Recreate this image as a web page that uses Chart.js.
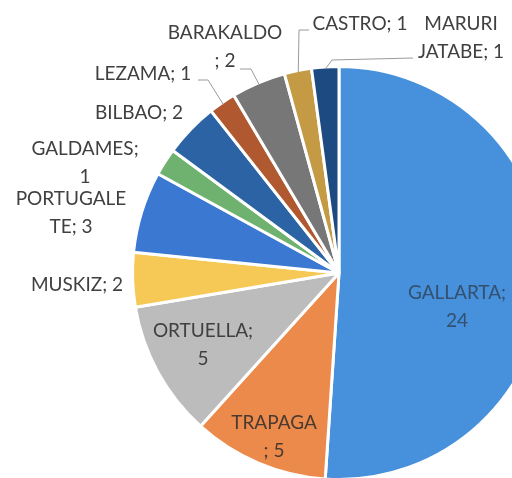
<!DOCTYPE html>
<html>
<head>
<meta charset="utf-8">
<script src="https://cdn.jsdelivr.net/npm/chart.js@4"></script>
<style>
  html, body { margin: 0; padding: 0; background: #fff; overflow: hidden; width: 512px; height: 478px; }
  #wrap { position: absolute; left: 0; top: 0; width: 680px; height: 544px; }
</style>
</head>
<body>
<div id="wrap"><canvas id="chart-area" width="680" height="544"></canvas></div>
<script>
// Data (clockwise from 12 o'clock)
let categories = ["GALLARTA", "TRAPAGA", "ORTUELLA", "MUSKIZ", "PORTUGALETE", "GALDAMES", "BILBAO", "LEZAMA", "BARAKALDO", "CASTRO", "MARURI JATABE"];
let counts = [24, 5, 5, 2, 3, 1, 2, 1, 2, 1, 1];
let sliceColors = ["#4690dc", "#ec8a4c", "#bcbcbc", "#f6c957", "#3a78d2", "#6fb26f", "#2b63a5", "#b0582f", "#777777", "#c49a45", "#1e4a82"];

// where each data label goes; brk = char index where the label wraps
let labelLayout = [
  { x: 457, y: 293, brk: 9, color: "#34506e" },
  { x: 274, y: 423, brk: 7, color: "#4a3a30" },
  { x: 203, y: 331, brk: 9, color: "#404040" },
  { x: 77,  y: 285, brk: 0, color: "#404040" },
  { x: 71,  y: 199, brk: 9, color: "#404040" },
  { x: 85,  y: 149, brk: 9, color: "#404040" },
  { x: 139, y: 113, brk: 0, color: "#404040" },
  { x: 143, y: 74,  brk: 0, color: "#404040", leader: [[198, 80], [208, 80]] },
  { x: 225, y: 33,  brk: 9, color: "#404040", leader: [[240, 69], [251, 69]] },
  { x: 360, y: 24,  brk: 0, color: "#404040", leader: [[309, 30], [299, 30]] },
  { x: 461, y: 24,  brk: 6, color: "#404040", leader: [[413, 58], [332, 60]] }
];

let labelFont = "19px Lato";
let lineGap = 28;

let dataLabels = {
  id: 'dataLabels',
  afterDraw(chart) {
    let ctx = chart.ctx;
    let arcs = chart.getDatasetMeta(0).data;
    ctx.save();
    for (let i = 0; i < arcs.length; i++) {
      let lay = labelLayout[i];
      let text = categories[i] + "; " + counts[i];
      let lines = lay.brk ? [text.slice(0, lay.brk).trim(), text.slice(lay.brk).trim()] : [text];

      if (lay.leader) {
        let p = arcs[i].getProps(['x', 'y', 'startAngle', 'endAngle', 'outerRadius'], true);
        let mid = (p.startAngle + p.endAngle) / 2;
        let ex = p.x + Math.cos(mid) * (p.outerRadius - 2);
        let ey = p.y + Math.sin(mid) * (p.outerRadius - 2);
        ctx.strokeStyle = "#9a9a9a";
        ctx.lineWidth = 1;
        ctx.beginPath();
        ctx.moveTo(lay.leader[0][0], lay.leader[0][1]);
        for (let k = 1; k < lay.leader.length; k++) ctx.lineTo(lay.leader[k][0], lay.leader[k][1]);
        ctx.lineTo(ex, ey);
        ctx.stroke();
      }

      ctx.font = labelFont;
      ctx.fillStyle = lay.color;
      ctx.textAlign = "center";
      ctx.textBaseline = "middle";
      for (let j = 0; j < lines.length; j++) {
        ctx.fillText(lines[j], lay.x, lay.y + j * lineGap);
      }
    }
    ctx.restore();
  }
};

let ctx = document.getElementById('chart-area').getContext('2d');
let myPieChart = new Chart(ctx, {
  type: 'pie',
  data: {
    labels: categories,
    datasets: [{
      data: counts,
      backgroundColor: sliceColors,
      borderColor: "#ffffff",
      borderWidth: 3
    }]
  },
  options: {
    responsive: false,
    animation: false,
    devicePixelRatio: 1,
    layout: { padding: { left: 131, right: 133, top: 64, bottom: 62 } },
    plugins: {
      legend: { display: false },
      tooltip: { enabled: false }
    }
  },
  plugins: [dataLabels]
});
</script>
</body>
</html>
